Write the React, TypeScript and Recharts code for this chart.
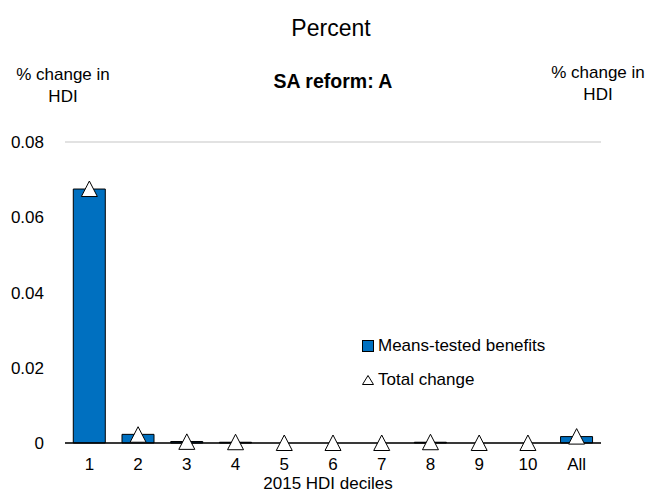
import React from 'react';
import { ComposedChart, Bar, Scatter, XAxis, YAxis, CartesianGrid } from 'recharts';

// Categories and values
const deciles = ['1', '2', '3', '4', '5', '6', '7', '8', '9', '10', 'All'];
const meansTested = [0.0675, 0.0023, 0.0004, 0.0002, 0, 0, 0, 0.0002, 0, 0, 0.0017];
const totalChange = [0.0675, 0.0022, 0.0003, 0.0002, 0, 0, 0, 0.0002, 0, 0, 0.0017];
const yTicks = [0, 0.02, 0.04, 0.06, 0.08];

const FONT = '"Liberation Sans", Arial, sans-serif';

const chartData = deciles.map((d, i) => ({
  decile: d,
  means: meansTested[i],
  total: totalChange[i],
}));

const fmt = (v: number) => (v === 0 ? '0' : v.toFixed(2));

const Triangle = (props: any) => {
  const { cx, cy } = props;
  if (cx == null || cy == null) return null;
  return (
    <polygon
      points={`${cx},${cy - 8} ${cx - 8},${cy + 7.5} ${cx + 8},${cy + 7.5}`}
      fill="#fff"
      stroke="#000"
      strokeWidth={1}
    />
  );
};

const text: React.CSSProperties = {
  position: 'absolute',
  fontFamily: FONT,
  color: '#000',
  textAlign: 'center',
  whiteSpace: 'nowrap',
};

export default function App() {
  return (
    <div style={{ position: 'absolute', left: 0, top: 0, width: 656, height: 497, background: '#fff' }}>
      <ComposedChart
        width={656}
        height={497}
        data={chartData}
        margin={{ top: 142, right: 0, bottom: 0, left: 0 }}
        barCategoryGap="17%"
      >
        <CartesianGrid vertical={false} stroke="#d9d9d9" strokeWidth={1.5} />
        <XAxis
          dataKey="decile"
          axisLine={{ stroke: '#000', strokeWidth: 1.5 }}
          tickLine={false}
          tickMargin={9}
          height={54}
          tick={{ fill: '#000', fontSize: 17, fontFamily: FONT }}
          interval={0}
        />
        <YAxis
          yAxisId="left"
          orientation="left"
          width={65}
          domain={[0, 0.08]}
          ticks={yTicks}
          tickFormatter={fmt}
          axisLine={false}
          tickLine={false}
          tickMargin={15}
          tick={{ fill: '#000', fontSize: 17, fontFamily: FONT }}
        />
        <YAxis
          yAxisId="right"
          orientation="right"
          width={55}
          domain={[0, 0.08]}
          ticks={yTicks}
          tickFormatter={fmt}
          axisLine={false}
          tickLine={false}
          tickMargin={13}
          tick={{ fill: '#000', fontSize: 17, fontFamily: FONT, textAnchor: 'start' }}
        />
        <Bar
          yAxisId="left"
          dataKey="means"
          name="Means-tested benefits"
          fill="#0070C0"
          stroke="#000"
          strokeWidth={1}
          isAnimationActive={false}
        />
        <Scatter
          yAxisId="left"
          dataKey="total"
          name="Total change"
          shape={<Triangle />}
          isAnimationActive={false}
        />
      </ComposedChart>

      <div style={{ ...text, left: 231, top: 15, width: 200, fontSize: 23 }}>Percent</div>
      <div style={{ ...text, left: 233, top: 70, width: 200, fontSize: 19.5, fontWeight: 'bold' }}>SA reform: A</div>
      <div style={{ ...text, left: 0, top: 64, width: 126, fontSize: 17, lineHeight: '22px' }}>
        % change in
        <br />
        HDI
      </div>
      <div style={{ ...text, left: 535, top: 62, width: 126, fontSize: 17, lineHeight: '22px' }}>
        % change in
        <br />
        HDI
      </div>
      <div style={{ ...text, left: 228, top: 474, width: 200, fontSize: 17 }}>2015 HDI deciles</div>

      {/* legend */}
      <div style={{ position: 'absolute', left: 362, top: 336, fontFamily: FONT, fontSize: 17, lineHeight: '20px' }}>
        <div style={{ display: 'flex', alignItems: 'center', height: 20 }}>
          <span
            style={{
              width: 10,
              height: 10,
              background: '#0070C0',
              border: '1px solid #000',
              marginRight: 4,
              boxSizing: 'content-box',
            }}
          />
          Means-tested benefits
        </div>
        <div style={{ display: 'flex', alignItems: 'center', height: 20, marginTop: 14 }}>
          <svg width={12} height={10} style={{ marginRight: 4 }}>
            <polygon points="6,0.5 0.5,9.5 11.5,9.5" fill="#fff" stroke="#000" strokeWidth={1} />
          </svg>
          Total change
        </div>
      </div>
    </div>
  );
}
